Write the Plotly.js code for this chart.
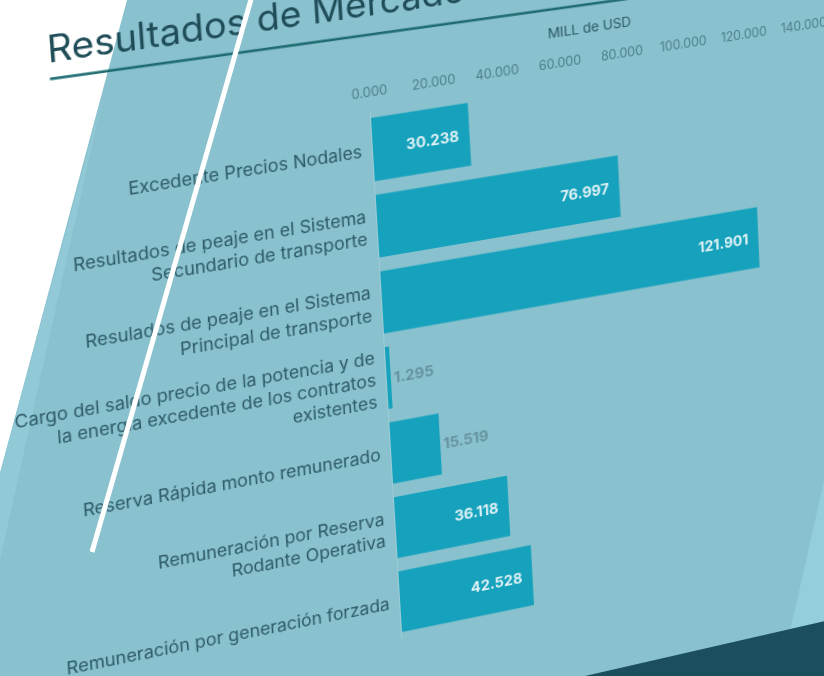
<!DOCTYPE html>
<html>
<head>
<meta charset="utf-8">
<script src="https://cdn.plot.ly/plotly-3.0.1.min.js"></script>
<style>
  html, body { margin: 0; padding: 0; width: 824px; height: 676px; overflow: hidden; background: #ffffff; }
  .layer { position: absolute; left: 0; top: 0; }
  #chart { transform-origin: 0 0; }
  #overlay { pointer-events: none; }
</style>
</head>
<body>
<div id="backdrop" class="layer"></div>
<div id="chart" class="layer"></div>
<div id="overlay" class="layer"></div>
<script>
// categories as printed on the poster (line breaks kept)
const categories = [
  'Excedente Precios Nodales',
  'Resultados de peaje en el Sistema<br>Secundario de transporte',
  'Resulados de peaje en el Sistema<br>Principal de transporte',
  'Cargo del saldo precio de la potencia y de<br>la energía excedente de los contratos<br>existentes',
  'Reserva Rápida monto remunerado',
  'Remuneración por Reserva<br>Rodante Operativa',
  'Remuneración por generación forzada'
];
// MILL de USD
const values = [30.238, 76.997, 121.901, 1.295, 15.519, 36.118, 42.528];
const tickValues = [0, 20, 40, 60, 80, 100, 120, 140];

const titleText = 'Resultados de Mercado';
const axisTitle = 'MILL de USD';

// flat layout of the chart before the photo perspective
const W = 920, H = 730;
const M = {l: 420, r: 66, t: 150, b: 52};
const plotW = W - M.l - M.r;
const plotH = H - M.t - M.b;
const xMax = 140;
const bargap = 0.18;
const n = categories.length;

const xPix = v => M.l + v / xMax * plotW;
const barTop = i => M.t + plotH * (i + bargap / 2) / n;
const barBot = i => M.t + plotH * (i + 1 - bargap / 2) / n;

// homography: flat chart -> photographed poster
function solveHomography(src, dst) {
  let A = [], b = [];
  for (let i = 0; i < 4; i++) {
    const [x, y] = src[i], [X, Y] = dst[i];
    A.push([x, y, 1, 0, 0, 0, -x * X, -y * X]); b.push(X);
    A.push([0, 0, 0, x, y, 1, -x * Y, -y * Y]); b.push(Y);
  }
  for (let c = 0; c < 8; c++) {
    let p = c;
    for (let r = c + 1; r < 8; r++) if (Math.abs(A[r][c]) > Math.abs(A[p][c])) p = r;
    [A[c], A[p]] = [A[p], A[c]]; [b[c], b[p]] = [b[p], b[c]];
    for (let r = 0; r < 8; r++) {
      if (r === c) continue;
      const f = A[r][c] / A[c][c];
      for (let k = c; k < 8; k++) A[r][k] -= f * A[c][k];
      b[r] -= f * b[c];
    }
  }
  const h = b.map((v, i) => v / A[i][i]);
  return [[h[0], h[1], h[2]], [h[3], h[4], h[5]], [h[6], h[7], 1]];
}

function invert3(m) {
  const [a, b, c] = m[0], [d, e, f] = m[1], [g, h, i] = m[2];
  const A = e * i - f * h, B = -(d * i - f * g), C = d * h - e * g;
  const det = a * A + b * B + c * C;
  return [
    [A / det, -(b * i - c * h) / det, (b * f - c * e) / det],
    [B / det, (a * i - c * g) / det, -(a * f - c * d) / det],
    [C / det, -(a * h - b * g) / det, (a * e - b * d) / det]
  ];
}

const Hm = solveHomography(
  [[xPix(0), barTop(0)], [xPix(0), barBot(6)], [xPix(values[2]), barTop(2)], [xPix(values[6]), barBot(6)]],
  [[371, 118], [402, 632], [757, 207], [534, 605]]
);
const Hinv = invert3(Hm);
function toFlat(X, Y) {
  const w = Hinv[2][0] * X + Hinv[2][1] * Y + Hinv[2][2];
  return [(Hinv[0][0] * X + Hinv[0][1] * Y + Hinv[0][2]) / w,
          (Hinv[1][0] * X + Hinv[1][1] * Y + Hinv[1][2]) / w];
}
const paperX = u => (u - M.l) / plotW;
const paperY = v => 1 - (v - M.t) / plotH;

const chartDiv = document.getElementById('chart');
chartDiv.style.width = W + 'px';
chartDiv.style.height = H + 'px';
chartDiv.style.transform = `matrix3d(${Hm[0][0]},${Hm[1][0]},0,${Hm[2][0]},${Hm[0][1]},${Hm[1][1]},0,${Hm[2][1]},0,0,1,0,${Hm[0][2]},${Hm[1][2]},0,${Hm[2][2]})`;

const FONT = 'Inter, "Open Sans", sans-serif';

// backdrop (screen space)
function plotBackdrop() {
  const layout = {
    width: 824, height: 676,
    margin: {l: 0, r: 0, t: 0, b: 0},
    paper_bgcolor: '#ffffff',
    plot_bgcolor: '#89c1ce',
    xaxis: {range: [0, 824], visible: false, fixedrange: true},
    yaxis: {range: [676, 0], visible: false, fixedrange: true},
    shapes: [
      {type: 'path', path: 'M 0 0 L 127 0 L 0 473 Z', fillcolor: '#ffffff', line: {width: 0}, layer: 'below'},
      {type: 'path', path: 'M 102 100 L 0 473 L 0 560 Z', fillcolor: '#91cad6', line: {width: 0}, layer: 'below'},
      {type: 'path', path: 'M 840 410 L 788 640 L 840 640 Z', fillcolor: '#93ceda', line: {width: 0}, layer: 'below'},
      {type: 'path', path: 'M 585 676 L 830 620 L 830 680 L 585 680 Z', fillcolor: '#1b4f5d', line: {width: 0}, layer: 'below'}
    ]
  };
  Plotly.newPlot('backdrop', [], layout, {staticPlot: true, displayModeBar: false});
}

function plotChart() {
  const texts = values.map(v => v < 20 ? v.toFixed(3) : v.toFixed(3) + '\u2002');
  const positions = values.map(v => v < 20 ? 'outside' : 'inside');

  const trace = {
    type: 'bar',
    orientation: 'h',
    x: values,
    y: categories,
    text: texts,
    textposition: positions,
    insidetextanchor: 'end',
    textangle: 0,
    constraintext: 'none',
    cliponaxis: false,
    insidetextfont: {family: FONT, size: 14.5, color: '#dff1f5', weight: 700},
    outsidetextfont: {family: FONT, size: 14.5, color: '#64939e', weight: 700},
    marker: {color: '#16a2bc', line: {width: 0}},
    hoverinfo: 'skip'
  };

  const tl = toFlat(47, 74);
  const u1 = toFlat(50, 79), u2 = toFlat(640, -3);

  const layout = {
    width: W, height: H,
    margin: M,
    paper_bgcolor: 'rgba(0,0,0,0)',
    plot_bgcolor: 'rgba(0,0,0,0)',
    showlegend: false,
    bargap: bargap,
    font: {family: FONT, color: '#2c5a66'},
    xaxis: {
      side: 'top',
      range: [0, xMax],
      tickvals: tickValues,
      tickformat: '.3f',
      showgrid: false, zeroline: false, showline: false,
      ticks: '',
      ticklabelstandoff: 10,
      tickfont: {family: FONT, size: 12.5, color: '#4c7f8a'},
      title: {text: axisTitle, standoff: 14, font: {family: FONT, size: 13.5, color: '#2c5a66'}},
      automargin: false
    },
    yaxis: {
      type: 'category',
      autorange: 'reversed',
      showgrid: false, zeroline: false,
      showline: true, linecolor: 'rgba(255,255,255,0.18)', linewidth: 1,
      ticks: '',
      ticklabelstandoff: 6,
      tickfont: {family: FONT, size: 17, color: '#2c5a66'},
      automargin: false
    },
    annotations: [{
      text: titleText,
      xref: 'paper', yref: 'paper',
      x: paperX(tl[0]), y: paperY(tl[1]),
      xanchor: 'left', yanchor: 'bottom',
      showarrow: false,
      font: {family: FONT, size: 35, color: '#1e4c57'}
    }],
    shapes: [{
      type: 'line', xref: 'paper', yref: 'paper',
      x0: paperX(u1[0]), y0: paperY(u1[1]),
      x1: paperX(u2[0]), y1: paperY(u2[1]),
      line: {color: '#1d6b70', width: 2.5}
    }]
  };
  Plotly.newPlot('chart', [trace], layout, {staticPlot: true, displayModeBar: false});
}

// white stroke across the photo
function plotOverlay() {
  const layout = {
    width: 824, height: 676,
    margin: {l: 0, r: 0, t: 0, b: 0},
    paper_bgcolor: 'rgba(0,0,0,0)',
    plot_bgcolor: 'rgba(0,0,0,0)',
    xaxis: {range: [0, 824], visible: false},
    yaxis: {range: [676, 0], visible: false},
    shapes: [{type: 'line', x0: 252, y0: -4, x1: 92, y1: 552, line: {color: '#ffffff', width: 5}}]
  };
  Plotly.newPlot('overlay', [], layout, {staticPlot: true, displayModeBar: false});
}

plotBackdrop();
plotChart();
plotOverlay();
</script>
</body>
</html>
